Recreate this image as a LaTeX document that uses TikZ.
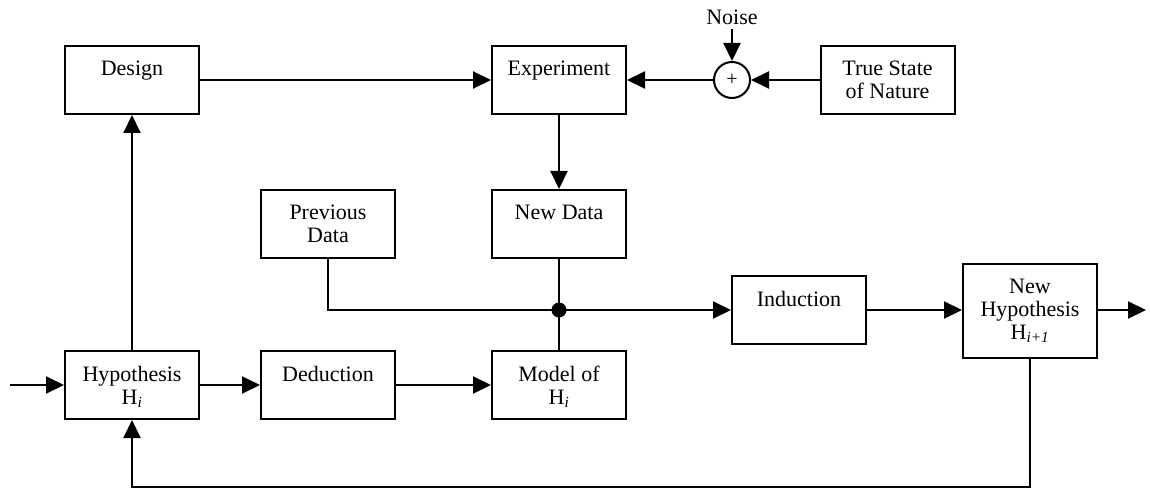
\documentclass[tikz,border=0pt]{standalone}
\usepackage{fontspec}
\setmainfont{Liberation Serif}
\usetikzlibrary{arrows.meta,calc}
\begin{document}
\begin{tikzpicture}[x=1pt,y=-1pt,
  font=\fontsize{22}{23}\selectfont,
  line width=2pt,
  arr/.style={-{Triangle[length=18pt,width=17pt]}},
  blk/.style={draw,rectangle,minimum width=134pt,minimum height=68pt,inner sep=0pt},
  tall/.style={blk,minimum height=94pt},
  txt/.style={label={[anchor=north,yshift=-15pt,align=center,inner sep=0pt]north:#1}},
  sumnode/.style={draw,circle,minimum size=36pt,inner sep=0pt,font=\fontsize{20}{20}\selectfont},
  dotnode/.style={circle,fill,minimum size=15pt,inner sep=0pt}
]
\useasboundingbox (0,0) rectangle (1150,489);
\node[blk,txt=Design] (design) at (132,80) {};
\node[blk,txt=Experiment] (exp) at (559,80) {};
\node[sumnode] (sum) at (732,80) {+};
\node[blk,txt={True State\\of Nature}] (true) at (887.5,80) {};
\node[inner sep=0pt] (noise) at (732,17) {Noise};
\node[blk,txt={Previous\\Data}] (prev) at (328,224) {};
\node[blk,txt={New Data}] (newdata) at (559,224) {};
\node[dotnode] (junc) at (559,310) {};
\node[blk,txt=Induction] (ind) at (799,310) {};
\node[tall,txt={New\\Hypothesis\\H\textsubscript{\textit{i+1}}}] (newhyp) at (1030,311) {};
\node[blk,txt={Hypothesis\\H\textsubscript{\textit{i}}}] (hyp) at (132,385) {};
\node[blk,txt=Deduction] (ded) at (328,385) {};
\node[blk,txt={Model of\\H\textsubscript{\textit{i}}}] (model) at (559,385) {};
\coordinate (in) at (10,385);
\coordinate (out) at (1146,310);
\coordinate (fb) at (1030,487);

\draw[arr] (design.east) -- (exp.west);
\draw[arr] (sum.west) -- (exp.east);
\draw[arr] (true.west) -- (sum.east);
\draw[arr] ($(noise.south)+(0,4)$) -- (sum.north);
\draw[arr] (exp.south) -- (newdata.north);
\draw (newdata.south) -- (junc.center) -- (model.north);
\draw (prev.south) |- (junc.center);
\draw[arr] (junc.center) -- (ind.west);
\draw[arr] (ind.east) -- (newhyp.west |- ind.east);
\draw[arr] (newhyp.east |- ind.east) -- (out);
\draw[arr] (in) -- (hyp.west);
\draw[arr] (hyp.east) -- (ded.west);
\draw[arr] (ded.east) -- (model.west);
\draw[arr] (hyp.north) -- (design.south);
\draw[arr] (newhyp.south) -- (fb) -| (hyp.south);
\end{tikzpicture}
\end{document}
